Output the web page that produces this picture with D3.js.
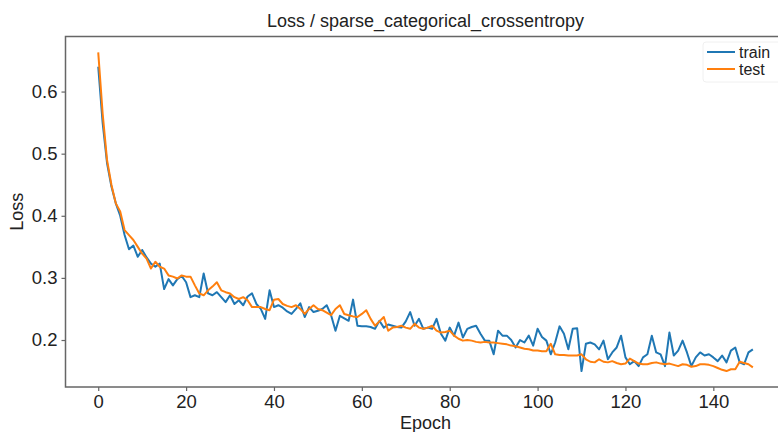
<!DOCTYPE html>
<html lang="en">
<head>
<meta charset="UTF-8">
<script src="https://cdn.jsdelivr.net/npm/d3@7"></script>
<title>Loss</title>
<style>
  body { margin: 0; background: #fff; }
  svg text { font-family: "Liberation Sans", Arial, sans-serif; fill: #222; }
</style>
</head>
<body>
<div id="chart"></div>
<script>
// values
var epochs = d3.range(0, 150);
var train = [
  0.640, 0.550, 0.485, 0.447, 0.420, 0.400, 0.369, 0.346, 0.352, 0.334,
  0.345, 0.333, 0.323, 0.318, 0.323, 0.282, 0.298, 0.288, 0.298, 0.303,
  0.293, 0.269, 0.272, 0.269, 0.307, 0.275, 0.272, 0.277, 0.269, 0.261,
  0.272, 0.258, 0.264, 0.256, 0.270, 0.275, 0.258, 0.250, 0.234, 0.280,
  0.253, 0.256, 0.252, 0.246, 0.242, 0.250, 0.259, 0.237, 0.253, 0.245,
  0.247, 0.250, 0.256, 0.240, 0.215, 0.239, 0.235, 0.231, 0.265, 0.223,
  0.222, 0.222, 0.221, 0.218, 0.231, 0.220, 0.225, 0.223, 0.221, 0.220,
  0.230, 0.245, 0.223, 0.234, 0.218, 0.220, 0.218, 0.234, 0.210, 0.199,
  0.220, 0.207, 0.228, 0.204, 0.218, 0.221, 0.223, 0.210, 0.199, 0.199,
  0.177, 0.215, 0.207, 0.207, 0.200, 0.188, 0.200, 0.196, 0.207, 0.191,
  0.218, 0.205, 0.199, 0.177, 0.196, 0.222, 0.210, 0.185, 0.218, 0.219,
  0.150, 0.194, 0.196, 0.193, 0.185, 0.199, 0.169, 0.180, 0.188, 0.207,
  0.172, 0.161, 0.166, 0.158, 0.172, 0.177, 0.207, 0.180, 0.177, 0.158,
  0.212, 0.175, 0.183, 0.199, 0.180, 0.158, 0.172, 0.180, 0.175, 0.177,
  0.172, 0.166, 0.175, 0.164, 0.183, 0.188, 0.164, 0.161, 0.180, 0.185
];
var test = [
  0.663, 0.565, 0.490, 0.450, 0.420, 0.407, 0.377, 0.369, 0.361, 0.350,
  0.339, 0.331, 0.315, 0.326, 0.318, 0.315, 0.304, 0.302, 0.299, 0.304,
  0.302, 0.302, 0.288, 0.275, 0.272, 0.280, 0.286, 0.293, 0.280, 0.277,
  0.275, 0.269, 0.266, 0.269, 0.264, 0.253, 0.253, 0.253, 0.250, 0.248,
  0.265, 0.266, 0.258, 0.255, 0.253, 0.256, 0.250, 0.242, 0.250, 0.256,
  0.250, 0.248, 0.244, 0.240, 0.250, 0.256, 0.242, 0.240, 0.238, 0.237,
  0.242, 0.248, 0.234, 0.223, 0.230, 0.237, 0.215, 0.220, 0.221, 0.223,
  0.220, 0.218, 0.226, 0.220, 0.218, 0.220, 0.223, 0.215, 0.212, 0.213,
  0.215, 0.207, 0.202, 0.199, 0.200, 0.199, 0.197, 0.196, 0.197, 0.196,
  0.196, 0.195, 0.194, 0.193, 0.191, 0.190, 0.188, 0.186, 0.185, 0.183,
  0.183, 0.182, 0.182, 0.194, 0.177, 0.176, 0.176, 0.175, 0.175, 0.175,
  0.177, 0.169, 0.165, 0.164, 0.169, 0.165, 0.164, 0.166, 0.163, 0.161,
  0.162, 0.170, 0.166, 0.162, 0.161, 0.161, 0.163, 0.164, 0.162, 0.161,
  0.162, 0.160, 0.158, 0.161, 0.160, 0.157, 0.158, 0.161, 0.161, 0.160,
  0.158, 0.155, 0.152, 0.150, 0.153, 0.153, 0.165, 0.163, 0.161, 0.156
];
var xTicks = [0, 20, 40, 60, 80, 100, 120, 140];
var yTicks = [0.2, 0.3, 0.4, 0.5, 0.6];
var seriesNames = ["train", "test"];
var seriesColors = ["#1f77b4", "#ff7f0e"];

var W = 778, H = 432;
var mLeft = 65.5, mRight = 785.6, mTop = 36.5, mBottom = 387;

var svg = d3.select("#chart").append("svg")
  .attr("width", W).attr("height", H);

// autoscale with 5% margins like matplotlib
var xExt = d3.extent(epochs);
var xPad = (xExt[1] - xExt[0]) * 0.05;
var yExt = d3.extent(train.concat(test));
var yPad = (yExt[1] - yExt[0]) * 0.05;

var x = d3.scaleLinear().domain([xExt[0] - xPad, xExt[1] + xPad]).range([mLeft, mRight]);
var y = d3.scaleLinear().domain([yExt[0] - yPad, yExt[1] + yPad]).range([mBottom, mTop]);

// lines
var line = d3.line()
  .x(function (d, i) { return x(epochs[i]); })
  .y(function (d) { return y(d); });

[train, test].forEach(function (s, k) {
  svg.append("path")
    .datum(s)
    .attr("d", line)
    .attr("fill", "none")
    .attr("stroke", seriesColors[k])
    .attr("stroke-width", 2)
    .attr("stroke-linejoin", "round");
});

// axes
var xAxis = d3.axisBottom(x).tickValues(xTicks).tickSize(4).tickPadding(4)
  .tickFormat(d3.format("d"));
var yAxis = d3.axisLeft(y).tickValues(yTicks).tickSize(4).tickPadding(4)
  .tickFormat(d3.format(".1f"));

var gx = svg.append("g").attr("transform", "translate(0," + mBottom + ")").call(xAxis);
var gy = svg.append("g").attr("transform", "translate(" + mLeft + ",0)").call(yAxis);
[gx, gy].forEach(function (g) {
  g.select(".domain").remove();
  g.selectAll(".tick line").attr("stroke", "#666").attr("stroke-width", 1.2);
  g.selectAll(".tick text").attr("font-size", 18.5).attr("fill", "#222")
    .attr("font-family", "Liberation Sans, Arial, sans-serif");
});

// frame
svg.append("rect")
  .attr("x", mLeft).attr("y", mTop)
  .attr("width", mRight - mLeft).attr("height", mBottom - mTop)
  .attr("fill", "none").attr("stroke", "#666").attr("stroke-width", 1.5);

// title and labels
var cx = (mLeft + mRight) / 2;
svg.append("text").attr("x", cx).attr("y", 27)
  .attr("text-anchor", "middle").attr("font-size", 18)
  .text("Loss / sparse_categorical_crossentropy");
svg.append("text").attr("x", cx).attr("y", 429)
  .attr("text-anchor", "middle").attr("font-size", 18)
  .text("Epoch");
svg.append("text")
  .attr("transform", "translate(23," + (mTop + mBottom) / 2 + ") rotate(-90)")
  .attr("text-anchor", "middle").attr("font-size", 18)
  .text("Loss");

// legend
var lg = svg.append("g");
lg.append("rect").attr("x", 703).attr("y", 42).attr("width", 80).attr("height", 40)
  .attr("rx", 3).attr("fill", "#fff").attr("fill-opacity", 0.8)
  .attr("stroke", "#f0f0f0");
seriesNames.forEach(function (name, k) {
  var ly = 52 + k * 17;
  lg.append("line").attr("x1", 707).attr("x2", 735).attr("y1", ly).attr("y2", ly)
    .attr("stroke", seriesColors[k]).attr("stroke-width", 2);
  lg.append("text").attr("x", 739).attr("y", ly + 5.5).attr("font-size", 16)
    .text(name);
});
</script>
</body>
</html>
